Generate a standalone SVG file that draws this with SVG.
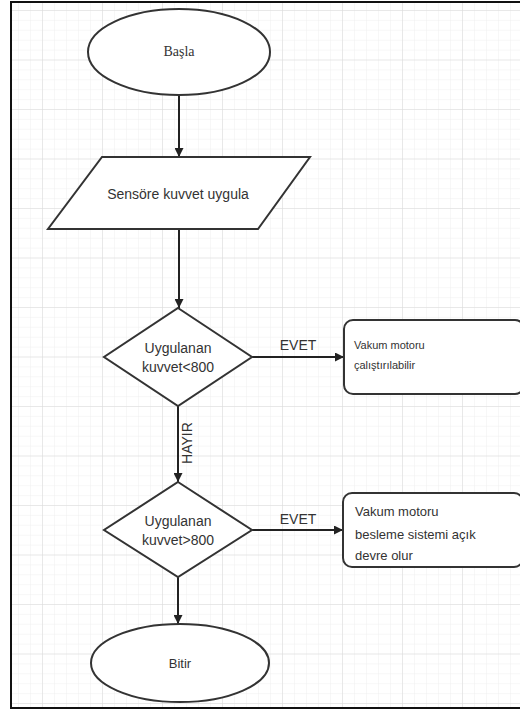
<svg xmlns="http://www.w3.org/2000/svg" width="520" height="711" viewBox="0 0 520 711">
<defs>
<pattern id="minor" x="42" y="10" width="12" height="9.9" patternUnits="userSpaceOnUse">
<path d="M0 0V9.9M0 0H12" fill="none" stroke="#efefef" stroke-width="1"/>
</pattern>
<pattern id="major" x="42" y="10" width="60" height="49.5" patternUnits="userSpaceOnUse">
<path d="M0 0V49.5M0 0H60" fill="none" stroke="#dadada" stroke-width="1"/>
</pattern>
<marker id="arr" viewBox="0 0 10 10" refX="10" refY="5" markerWidth="9" markerHeight="9" markerUnits="userSpaceOnUse" orient="auto">
<path d="M0 0L10 5L0 10Z" fill="#222"/>
</marker>
<style>
.shape{fill:#fff;stroke:#333;stroke-width:2}
.edge{fill:none;stroke:#222;stroke-width:2;marker-end:url(#arr)}
.t{font-family:"Liberation Sans",Arial,sans-serif;fill:#333;font-size:14px}
.s{font-size:11px}
.m{font-size:13px}
.serif{font-family:"Liberation Serif","Times New Roman",serif;font-size:14px;fill:#333}
</style>
</defs>
<rect x="0" y="0" width="520" height="711" fill="#fff"/>
<rect x="11" y="2" width="515" height="706" fill="url(#minor)"/>
<rect x="11" y="2" width="515" height="706" fill="url(#major)"/>
<rect x="11" y="2" width="515" height="706" fill="none" stroke="#111" stroke-width="2"/>

<g id="connectors">
<line class="edge" x1="179" y1="95" x2="179" y2="157"/>
<line class="edge" x1="179" y1="229" x2="179" y2="308"/>
<line class="edge" x1="252" y1="357" x2="344" y2="357"/>
<text class="t" x="298" y="350" text-anchor="middle">EVET</text>
<line class="edge" x1="178" y1="406" x2="178" y2="482"/>
<text class="t" transform="translate(192,443) rotate(-90)" text-anchor="middle">HAYIR</text>
<line class="edge" x1="252" y1="530" x2="343" y2="530"/>
<text class="t" x="298" y="524" text-anchor="middle">EVET</text>
<line class="edge" x1="178" y1="577" x2="178" y2="624"/>
</g>

<g id="start">
<ellipse class="shape" cx="179" cy="52" rx="91" ry="43"/>
<text class="serif" x="179" y="56" text-anchor="middle">Başla</text>
</g>

<g id="input">
<polygon class="shape" points="102,157 310,157 258,229 48,229"/>
<text class="t" x="178" y="199" text-anchor="middle">Sensöre kuvvet uygula</text>
</g>

<g id="decision1">
<polygon class="shape" points="178,308 252,357 178,406 104,357"/>
<text class="t" x="178" y="353" text-anchor="middle">Uygulanan</text>
<text class="t" x="178" y="372" text-anchor="middle">kuvvet&lt;800</text>
</g>

<g id="result1">
<rect class="shape" x="344" y="320" width="180" height="74" rx="9"/>
<text class="t s" x="354" y="349">Vakum motoru</text>
<text class="t s" x="354" y="369">çalıştırılabilir</text>
</g>

<g id="decision2">
<polygon class="shape" points="178,482 252,530 178,577 104,530"/>
<text class="t" x="178" y="526" text-anchor="middle">Uygulanan</text>
<text class="t" x="178" y="545" text-anchor="middle">kuvvet&gt;800</text>
</g>

<g id="result2">
<rect class="shape" x="343" y="493" width="180" height="74" rx="9"/>
<text class="t m" x="355" y="516">Vakum motoru</text>
<text class="t m" x="355" y="539">besleme sistemi açık</text>
<text class="t m" x="355" y="560">devre olur</text>
</g>

<g id="end">
<ellipse class="shape" cx="180" cy="663" rx="89" ry="39"/>
<text class="t m" x="180" y="668" text-anchor="middle">Bitir</text>
</g>
</svg>
